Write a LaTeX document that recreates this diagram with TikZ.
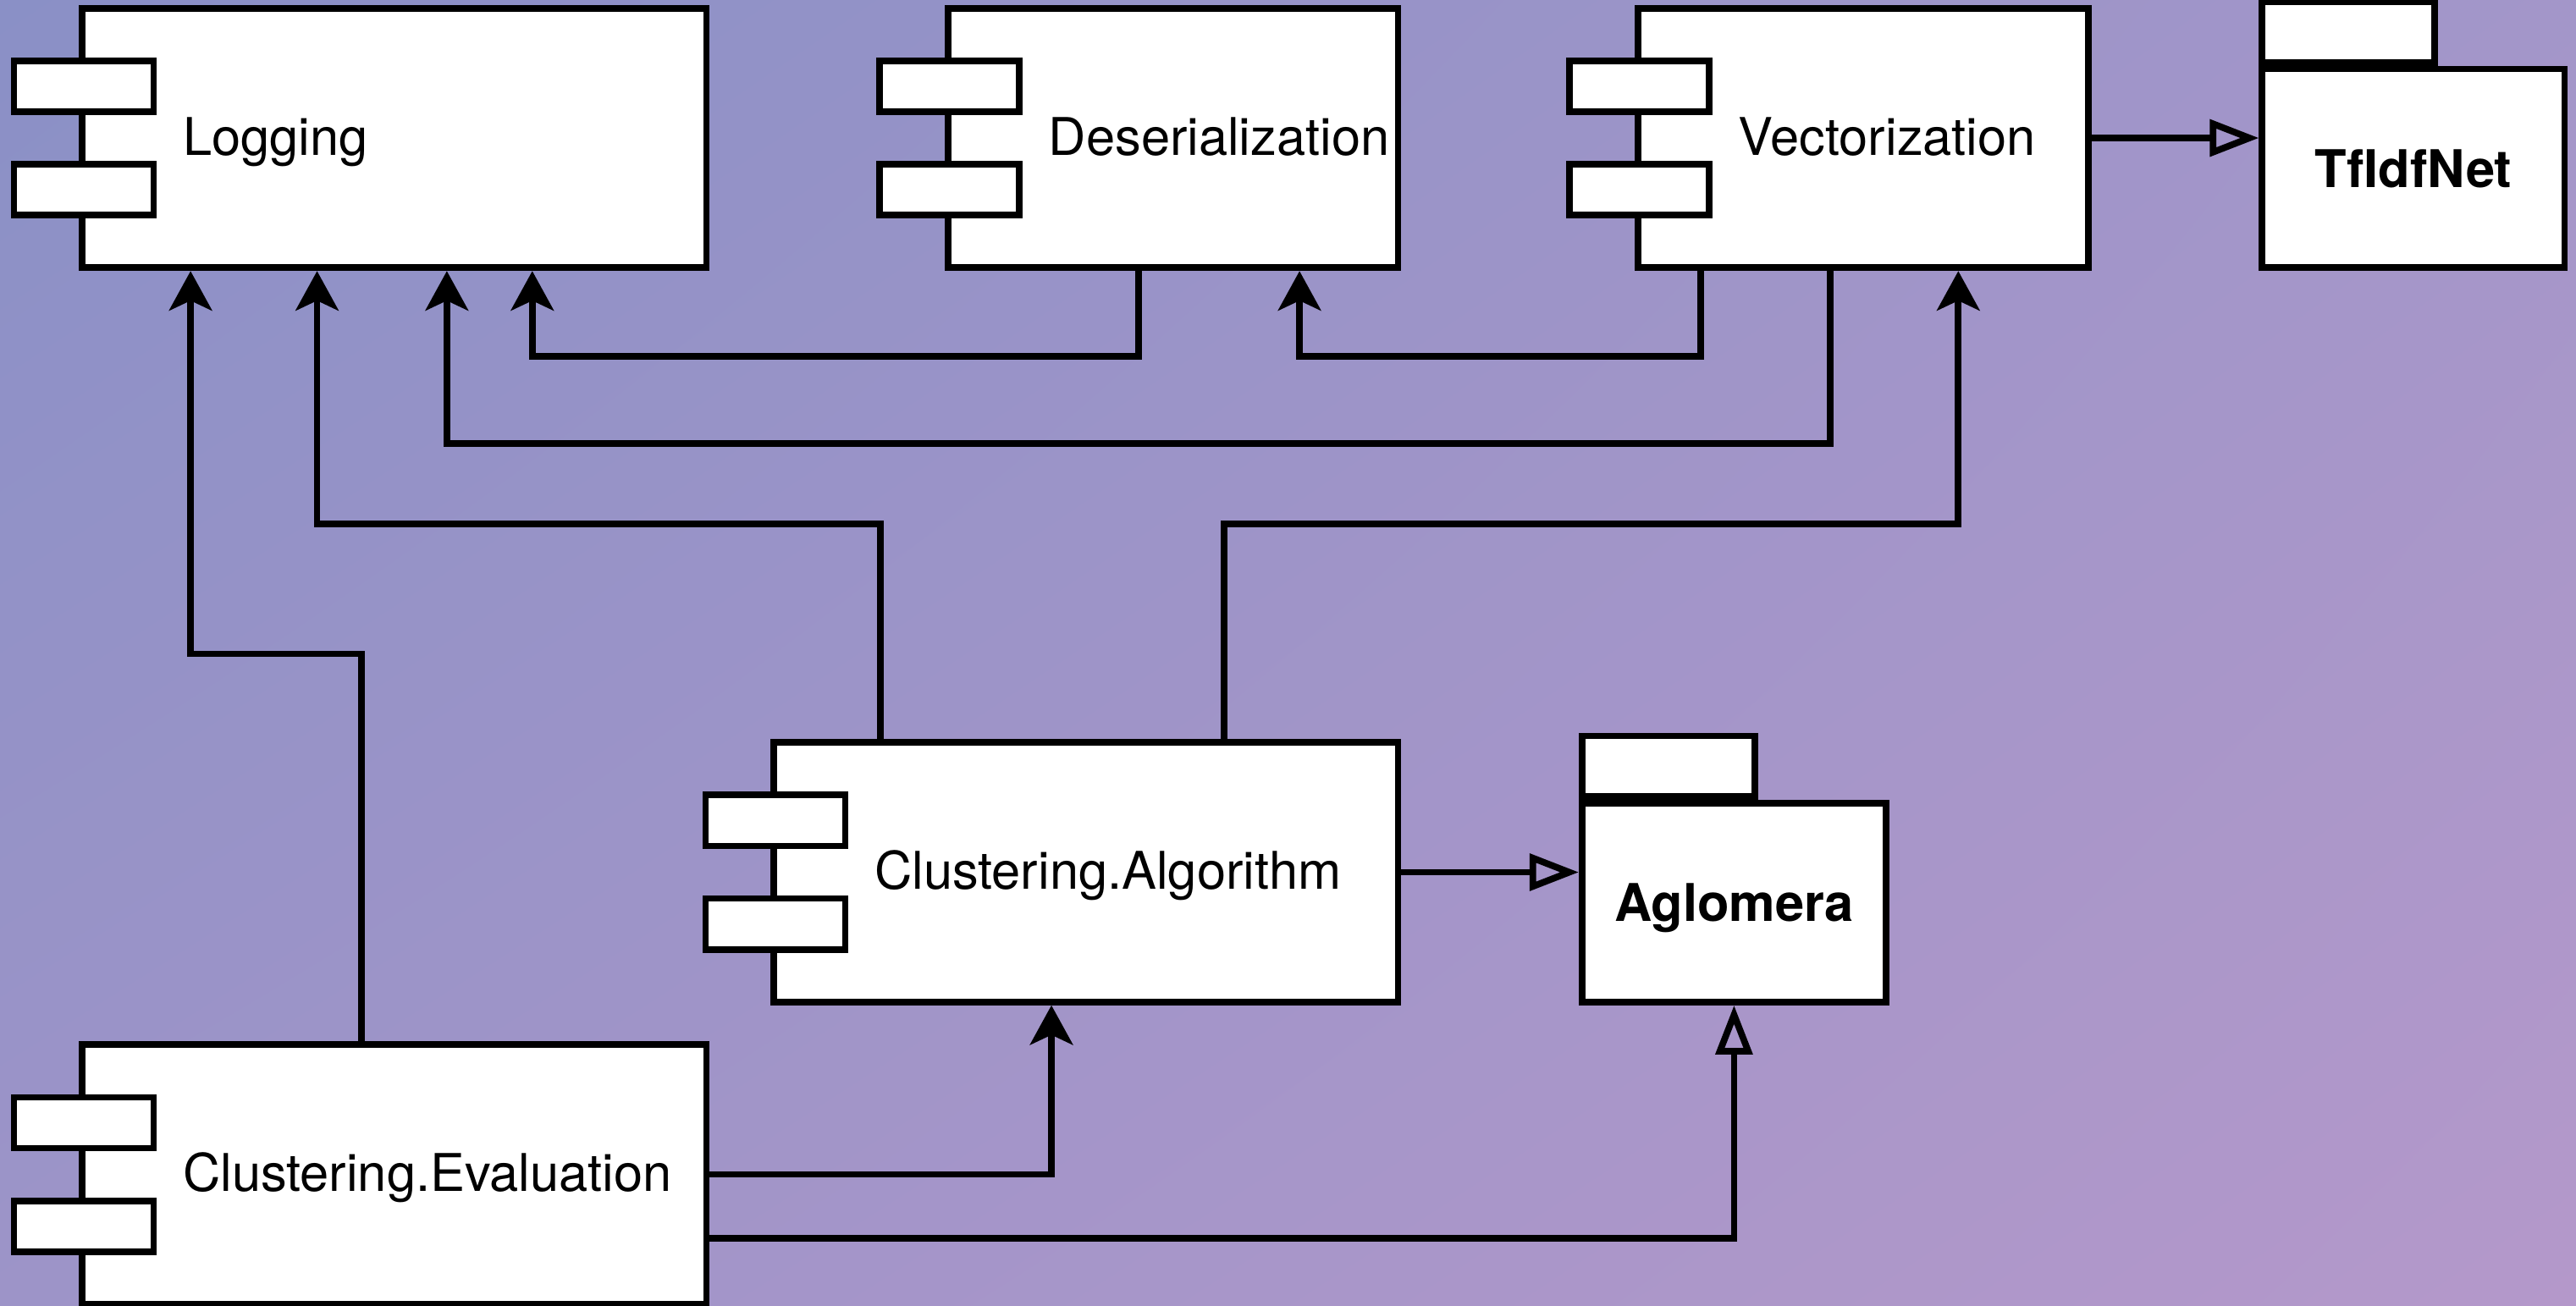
\documentclass[tikz,border=0pt]{standalone}
\usepackage{fontspec}
\setmainfont{TeX Gyre Heros}
\usepackage{xcolor}
\usetikzlibrary{arrows.meta,shadings}
\definecolor{bgul}{HTML}{8A90C6}
\definecolor{bgur}{HTML}{A396C9}
\definecolor{bgll}{HTML}{9D94C8}
\definecolor{bglr}{HTML}{B498CA}
\newcommand{\umlfont}{\fontsize{18}{21.6}\selectfont}
\tikzstyle{compbox} = [
    draw=black,
    fill=white,
    line width=0.8mm,
    rectangle,
    minimum height=31.6mm,
    inner sep=0pt
    ]
\tikzstyle{comptab} = [
    draw=black,
    fill=white,
    line width=0.8mm,
    rectangle,
    minimum width=17mm,
    minimum height=6.2mm,
    inner sep=0pt
    ]
\tikzstyle{comptext} = [anchor=base west, inner sep=0pt, font=\umlfont]
\tikzstyle{pkgbody} = [
    draw=black,
    fill=white,
    line width=0.8mm,
    rectangle,
    minimum height=24.2mm,
    inner sep=0pt,
    text height=4.6mm,
    text depth=0pt,
    font=\umlfont\bfseries
    ]
\tikzstyle{pkgtab} = [
    draw=black,
    fill=white,
    line width=0.8mm,
    rectangle,
    minimum width=21mm,
    minimum height=7.4mm,
    inner sep=0pt
    ]
\tikzstyle{uses} = [line width=0.8mm, -{Stealth[length=4.8mm, width=5.2mm, inset=1.2mm]}]
\tikzstyle{realizes} = [line width=0.8mm, -{Triangle[open, length=6mm, width=4.4mm]}]
\newcommand{\umlcomp}[5]{% name, x, y, width, text
  \node[compbox, minimum width=#4] (#1) at (#2,#3) {};
  \node[comptab, xshift=0.6mm, yshift=6.3mm] (#1-taba) at (#1.west) {};
  \node[comptab, xshift=0.6mm, yshift=-6.3mm] (#1-tabb) at (#1.west) {};
  \node[comptext, xshift=12.6mm, yshift=-2.1mm] (#1-text) at (#1.west) {#5};
}
\newcommand{\umlpkg}[5]{% name, x, y, width, text
  \node[pkgbody, minimum width=#4] (#1) at (#2,#3) {#5};
  \node[pkgtab, anchor=south west] (#1-tab) at (#1.north west) {};
}
\begin{document}
\begin{tikzpicture}[x=0.2mm, y=-0.2mm]
\useasboundingbox (0,0) rectangle (1568,795);
\shade[upper left=bgul, upper right=bgur, lower left=bgll, lower right=bglr] (0,0) rectangle (1568,795);

\umlcomp{logging}{240}{84}{76mm}{Logging}
\umlcomp{deser}{714}{84}{54.8mm}{Deserialization}
\umlcomp{vect}{1134}{84}{54.8mm}{Vectorization}
\umlcomp{alg}{661}{531}{76mm}{Clustering.Algorithm}
\umlcomp{eval}{240}{715}{76mm}{Clustering.Evaluation}
\umlpkg{tfidf}{1469}{102.5}{36.8mm}{TfIdfNet}
\umlpkg{aglomera}{1055.5}{549.5}{37mm}{Aglomera}

% dependencies
\draw[uses] ([xshift=-4mm]eval.north) -- ++(0,-236) -| ([xshift=-24.8mm]logging.south);
\draw[uses] ([xshift=-25mm]alg.north) -- ++(0,-131) -| ([xshift=-9.4mm]logging.south);
\draw[uses] ([xshift=-4mm]vect.south) -- ++(0,105) -| ([xshift=6.4mm]logging.south);
\draw[uses] ([xshift=-4.2mm]deser.south) -- ++(0,52) -| ([xshift=16.8mm]logging.south);
\draw[uses] ([xshift=-19.8mm]vect.south) -- ++(0,52) -| ([xshift=15.4mm]deser.south);
\draw[uses] ([xshift=16.8mm]alg.north) -- ++(0,-131) -| ([xshift=11.6mm]vect.south);
\draw[uses] (eval.east) -| ([xshift=-4.2mm]alg.south);

% realizations
\draw[realizes] (vect.east) -- (vect.east -| tfidf.west);
\draw[realizes] (alg.east) -- (alg.east -| aglomera.west);
\draw[realizes] ([yshift=-7.8mm]eval.east) -| (aglomera.south);
\end{tikzpicture}
\end{document}
